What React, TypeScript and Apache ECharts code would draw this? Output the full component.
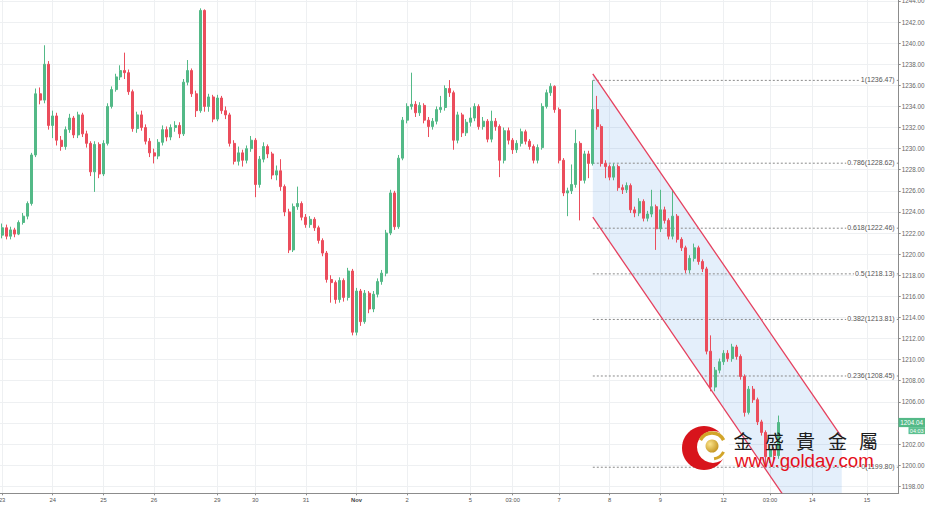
import React, { useEffect, useRef } from 'react';
import * as echarts from 'echarts';

// ---------- data ----------
const SLOT_COUNT = 213; // 2-hour slots on the time axis (incl. empty future slots)

const xTicks: [number, string][] = [
  [0, '23'], [12, '24'], [24, '25'], [36, '26'], [51, '29'], [60, '30'], [72, '31'],
  [84, 'Nov'], [96, '2'], [111, '5'], [121, '03:00'], [132, '7'], [144, '8'], [156, '9'],
  [171, '12'], [182, '03:00'], [192, '14'], [205, '15'],
];

const yTicks = [1198, 1200, 1202, 1204, 1206, 1208, 1210, 1212, 1214, 1216, 1218, 1220,
  1222, 1224, 1226, 1228, 1230, 1232, 1234, 1236, 1238, 1240, 1242, 1244];

// [open, close, low, high]
const candles: number[][] = [
  [1221.8, 1222.5, 1221.5, 1222.9], [1222.5, 1221.7, 1221.4, 1222.8], [1221.7, 1222.3, 1221.4, 1222.6],
  [1222.3, 1221.9, 1221.6, 1222.5], [1221.9, 1223.0, 1221.8, 1223.2], [1223.0, 1223.6, 1222.8, 1223.9],
  [1223.6, 1224.8, 1223.3, 1225.0], [1224.8, 1229.4, 1224.6, 1229.6], [1229.4, 1235.2, 1229.2, 1235.7],
  [1235.2, 1234.6, 1234.2, 1235.8], [1234.6, 1238.0, 1234.3, 1239.8], [1238.0, 1232.2, 1231.8, 1238.3],
  [1232.2, 1233.1, 1231.0, 1233.6], [1233.1, 1230.8, 1230.3, 1233.4], [1230.8, 1230.2, 1229.8, 1231.2],
  [1230.2, 1231.8, 1229.9, 1232.1], [1231.8, 1232.9, 1231.5, 1233.3], [1232.9, 1231.3, 1231.0, 1233.1],
  [1231.3, 1233.2, 1231.0, 1233.5], [1233.2, 1231.4, 1231.1, 1233.4], [1231.4, 1230.5, 1230.1, 1231.7],
  [1230.5, 1227.8, 1227.4, 1230.7], [1227.8, 1230.4, 1225.9, 1230.7], [1230.4, 1227.6, 1227.2, 1230.6],
  [1227.6, 1230.5, 1227.4, 1230.8], [1230.5, 1234.0, 1230.3, 1234.3], [1234.0, 1235.6, 1233.8, 1235.9],
  [1235.6, 1236.8, 1235.4, 1237.1], [1236.8, 1237.4, 1236.5, 1237.9], [1237.4, 1237.2, 1236.6, 1239.1],
  [1237.2, 1235.4, 1235.1, 1237.5], [1235.4, 1231.9, 1231.6, 1235.6], [1231.9, 1233.2, 1231.5, 1233.5],
  [1233.2, 1232.0, 1231.7, 1233.6], [1232.0, 1230.7, 1230.4, 1232.3], [1230.7, 1229.6, 1229.2, 1231.0],
  [1229.6, 1229.3, 1228.6, 1230.0], [1229.3, 1230.6, 1229.0, 1230.9], [1230.6, 1231.8, 1230.3, 1232.2],
  [1231.8, 1231.1, 1230.7, 1232.1], [1231.1, 1232.0, 1230.8, 1232.3], [1232.0, 1232.2, 1231.6, 1232.6],
  [1232.2, 1231.4, 1231.0, 1232.5], [1231.4, 1236.3, 1231.2, 1236.6], [1236.3, 1237.4, 1236.0, 1238.4],
  [1237.4, 1235.2, 1234.9, 1237.6], [1235.2, 1233.6, 1233.0, 1235.5], [1233.6, 1243.1, 1233.4, 1243.3],
  [1243.1, 1234.0, 1233.5, 1243.2], [1234.0, 1234.9, 1233.5, 1235.2], [1234.9, 1232.8, 1232.5, 1235.1],
  [1232.8, 1234.8, 1232.6, 1235.1], [1234.8, 1233.6, 1233.3, 1235.0], [1233.6, 1233.2, 1232.8, 1234.0],
  [1233.2, 1230.5, 1230.2, 1233.4], [1230.5, 1228.8, 1228.5, 1230.8], [1228.8, 1229.6, 1228.4, 1230.2],
  [1229.6, 1228.9, 1228.3, 1229.9], [1228.9, 1230.0, 1228.6, 1230.3], [1230.0, 1230.8, 1229.7, 1231.2],
  [1230.8, 1226.6, 1225.4, 1231.0], [1226.6, 1229.0, 1226.3, 1229.3], [1229.0, 1230.2, 1228.7, 1230.6],
  [1230.2, 1229.5, 1229.1, 1230.4], [1229.5, 1227.5, 1227.1, 1229.7], [1227.5, 1227.9, 1227.0, 1228.4],
  [1227.9, 1226.4, 1226.0, 1229.0], [1226.4, 1224.0, 1223.6, 1226.6], [1224.0, 1220.4, 1220.1, 1224.3],
  [1220.4, 1224.5, 1220.2, 1224.8], [1224.5, 1224.8, 1224.2, 1226.4], [1224.8, 1223.5, 1223.2, 1225.0],
  [1223.5, 1222.8, 1222.5, 1223.8], [1222.8, 1223.3, 1222.5, 1223.6], [1223.3, 1222.5, 1222.2, 1223.5],
  [1222.5, 1221.3, 1221.0, 1222.7], [1221.3, 1220.1, 1219.8, 1221.5], [1220.1, 1217.6, 1217.3, 1220.3],
  [1217.6, 1217.3, 1215.4, 1218.0], [1217.3, 1215.7, 1215.3, 1217.5], [1215.7, 1217.5, 1215.4, 1217.8],
  [1217.5, 1215.9, 1215.5, 1217.7], [1215.9, 1218.4, 1215.6, 1218.7], [1218.4, 1212.6, 1212.3, 1218.6],
  [1212.6, 1216.5, 1212.3, 1216.8], [1216.5, 1213.6, 1213.2, 1216.7], [1213.6, 1216.3, 1213.4, 1216.6],
  [1216.3, 1214.8, 1214.4, 1216.5], [1214.8, 1216.2, 1214.5, 1216.5], [1216.2, 1217.4, 1215.9, 1217.7],
  [1217.4, 1218.2, 1217.1, 1218.5], [1218.2, 1222.0, 1217.9, 1222.3], [1222.0, 1225.8, 1221.8, 1226.1],
  [1225.8, 1222.6, 1222.3, 1226.0], [1222.6, 1229.1, 1222.4, 1229.4], [1229.1, 1232.7, 1228.9, 1233.0],
  [1232.7, 1234.0, 1232.4, 1234.3], [1234.0, 1234.2, 1233.7, 1237.2], [1234.2, 1233.4, 1233.0, 1234.5],
  [1233.4, 1234.1, 1233.1, 1234.4], [1234.1, 1232.7, 1232.4, 1234.3], [1232.7, 1232.1, 1231.1, 1233.0],
  [1232.1, 1232.6, 1231.8, 1232.9], [1232.6, 1233.7, 1232.3, 1234.0], [1233.7, 1233.9, 1233.4, 1235.0],
  [1233.9, 1235.7, 1233.6, 1236.0], [1235.7, 1235.3, 1234.9, 1236.5], [1235.3, 1230.8, 1229.9, 1235.5],
  [1230.8, 1233.2, 1230.5, 1233.5], [1233.2, 1231.5, 1231.1, 1233.4], [1231.5, 1232.5, 1231.2, 1232.8],
  [1232.5, 1232.9, 1232.1, 1233.9], [1232.9, 1234.0, 1232.6, 1234.3], [1234.0, 1232.1, 1231.8, 1234.2],
  [1232.1, 1232.6, 1231.8, 1233.0], [1232.6, 1230.9, 1230.6, 1232.8], [1230.9, 1232.6, 1230.6, 1233.6],
  [1232.6, 1232.1, 1231.7, 1232.9], [1232.1, 1228.9, 1227.3, 1232.3], [1228.9, 1231.7, 1228.6, 1232.0],
  [1231.7, 1230.8, 1230.4, 1232.0], [1230.8, 1229.9, 1229.5, 1231.0], [1229.9, 1230.5, 1229.6, 1230.8],
  [1230.5, 1231.6, 1230.2, 1231.9], [1231.6, 1230.7, 1230.4, 1231.8], [1230.7, 1230.2, 1229.9, 1230.9],
  [1230.2, 1228.9, 1228.6, 1230.4], [1228.9, 1230.1, 1228.6, 1230.4], [1230.1, 1234.0, 1229.9, 1234.3],
  [1234.0, 1235.3, 1233.8, 1235.6], [1235.3, 1235.9, 1235.0, 1236.2], [1235.9, 1233.7, 1233.4, 1236.0],
  [1233.7, 1228.9, 1228.6, 1233.9], [1228.9, 1225.8, 1225.5, 1229.1], [1225.8, 1226.0, 1223.6, 1226.3],
  [1226.0, 1226.6, 1225.7, 1228.5], [1226.6, 1230.5, 1226.3, 1231.8], [1230.5, 1227.0, 1223.2, 1230.7],
  [1227.0, 1229.5, 1226.7, 1229.8], [1229.5, 1228.6, 1227.2, 1229.8], [1228.6, 1233.7, 1228.4, 1236.47],
  [1233.7, 1232.1, 1231.8, 1235.0], [1232.1, 1228.6, 1228.3, 1232.3], [1228.6, 1228.3, 1227.2, 1228.9],
  [1228.3, 1227.3, 1227.0, 1228.5], [1227.3, 1228.3, 1227.0, 1228.6], [1228.3, 1226.3, 1226.0, 1228.5],
  [1226.3, 1226.1, 1225.7, 1226.6], [1226.1, 1226.5, 1225.8, 1226.8], [1226.5, 1224.2, 1223.9, 1226.7],
  [1224.2, 1223.9, 1223.5, 1224.5], [1223.9, 1225.0, 1223.6, 1225.3], [1225.0, 1223.4, 1223.1, 1225.2],
  [1223.4, 1223.8, 1223.1, 1224.1], [1223.8, 1224.5, 1223.5, 1226.1], [1224.5, 1222.4, 1220.4, 1224.7],
  [1222.4, 1224.2, 1222.1, 1226.1], [1224.2, 1223.2, 1222.9, 1224.5], [1223.2, 1221.7, 1221.4, 1223.4],
  [1221.7, 1223.6, 1221.4, 1226.1], [1223.6, 1221.4, 1221.1, 1223.8], [1221.4, 1220.6, 1220.3, 1221.6],
  [1220.6, 1218.5, 1218.2, 1220.8], [1218.5, 1219.6, 1218.2, 1219.9], [1219.6, 1220.6, 1219.3, 1221.0],
  [1220.6, 1219.3, 1219.0, 1220.8], [1219.3, 1218.6, 1218.3, 1219.5], [1218.6, 1210.8, 1210.5, 1218.8],
  [1210.8, 1207.4, 1207.0, 1212.3], [1207.4, 1209.0, 1207.0, 1209.3], [1209.0, 1209.8, 1208.7, 1210.1],
  [1209.8, 1210.6, 1209.5, 1210.9], [1210.6, 1210.1, 1209.8, 1210.9], [1210.1, 1211.2, 1209.8, 1211.5],
  [1211.2, 1210.3, 1210.0, 1211.4], [1210.3, 1208.4, 1208.1, 1210.5], [1208.4, 1205.0, 1204.6, 1208.6],
  [1205.0, 1207.2, 1204.8, 1207.5], [1207.2, 1206.2, 1205.9, 1207.5], [1206.2, 1204.1, 1203.8, 1206.4],
  [1204.1, 1203.1, 1202.8, 1204.3], [1203.1, 1200.8, 1199.8, 1203.3], [1200.8, 1201.5, 1200.2, 1201.8],
  [1201.5, 1200.9, 1200.5, 1201.7], [1200.9, 1204.04, 1200.6, 1204.7],
];

const fibRatios = ['1', '0.786', '0.618', '0.5', '0.382', '0.236', '0'];
const fibPrices = [1236.47, 1228.62, 1222.46, 1218.13, 1213.81, 1208.45, 1199.8];
const fibStartSlot = 140;

const channelUpper = [[140, 1237.09], [199, 1202.65]];
const channelLower = [[140, 1223.5], [199, 1189.06]];

const lastPrice = 1204.04;
const countdown = '04:03';
const logoChars = ['金', '盛', '貴', '金', '屬'];
const logoUrl = 'www.golday.com';

// ---------- chart ----------
const UP = '#53b987';
const DOWN = '#eb4d5c';
const GRID_LINE = '#eef0f2';
const AXIS = '#8c8c8c';
const FONT = 'Liberation Sans, Arial, sans-serif';

const categories: string[] = Array.from({ length: SLOT_COUNT }, () => '');
xTicks.forEach(([i, t]) => { categories[i] = t; });
const isTick = (_i: number, v: string) => v !== '';

function buildOption(): any {
  return {
    animation: false,
    backgroundColor: '#ffffff',
    grid: { left: 0, top: 0, right: 27.3, bottom: 15.7, containLabel: false, outerBoundsMode: 'none' },
    xAxis: {
      type: 'category',
      data: categories,
      boundaryGap: true,
      axisLine: { show: true, lineStyle: { color: AXIS, width: 1 } },
      axisTick: { show: true, interval: isTick, alignWithLabel: true, length: 2, lineStyle: { color: AXIS } },
      axisLabel: {
        interval: isTick, color: '#555', fontSize: 5.8, fontFamily: FONT, margin: 4,
        formatter: (v: string) => (v === 'Nov' ? '{b|Nov}' : v),
        rich: { b: { fontWeight: 'bold', fontSize: 5.8, color: '#444', fontFamily: FONT } },
      },
      splitLine: { show: true, interval: isTick, alignWithLabel: true, lineStyle: { color: GRID_LINE, width: 1 } },
    },
    yAxis: {
      type: 'value',
      position: 'right',
      min: 1197.33,
      max: 1244.09,
      axisLine: { show: true, lineStyle: { color: AXIS, width: 1 } },
      axisTick: { show: true, length: 2, customValues: yTicks, lineStyle: { color: AXIS } },
      axisLabel: {
        customValues: yTicks, color: '#666', fontSize: 6.3, fontFamily: FONT, margin: 3,
        formatter: (v: number) => v.toFixed(2),
      },
      splitLine: { show: true, lineStyle: { color: GRID_LINE, width: 1 } },
    },
    series: [
      {
        type: 'custom',
        name: 'channelFill',
        z: 1,
        silent: true,
        data: [[channelUpper[0][0], channelUpper[0][1]]],
        renderItem: (params: any, api: any) => {
          const cs = params.coordSys;
          const pts = [channelUpper[0], channelUpper[1], channelLower[1], channelLower[0]].map((d) => api.coord(d));
          return {
            type: 'group',
            clipPath: { type: 'rect', shape: { x: cs.x, y: cs.y, width: cs.width, height: cs.height } },
            children: [{ type: 'polygon', shape: { points: pts }, style: { fill: 'rgba(33,120,220,0.12)' } }],
          };
        },
      },
      {
        type: 'custom',
        name: 'fib',
        z: 1.5,
        silent: true,
        data: fibPrices.map((p, k) => [fibStartSlot, p, k]),
        renderItem: (params: any, api: any) => {
          const cs = params.coordSys;
          const k = api.value(2);
          const p = api.coord([fibStartSlot, fibPrices[k]]);
          const right = cs.x + cs.width;
          return {
            type: 'group',
            children: [
              {
                type: 'line',
                shape: { x1: p[0], y1: p[1], x2: right, y2: p[1] },
                style: { stroke: '#8a8a8a', lineWidth: 1, lineDash: [2, 2] },
              },
              {
                type: 'text',
                x: right - 3,
                y: p[1] - 0.5,
                style: {
                  text: `${fibRatios[k]}(${fibPrices[k].toFixed(2)})`,
                  fill: '#555', fontSize: 7, fontFamily: FONT,
                  align: 'right', verticalAlign: 'middle',
                  backgroundColor: '#ffffff', padding: [0, 1],
                },
              },
            ],
          };
        },
      },
      {
        type: 'candlestick',
        name: 'XAUUSD',
        z: 2,
        barWidth: 2.5,
        data: candles,
        itemStyle: { color: UP, color0: DOWN, borderColor: UP, borderColor0: DOWN, borderWidth: 1 },
      },
      {
        type: 'custom',
        name: 'channelLines',
        z: 3,
        silent: true,
        data: [[channelUpper[0][0], channelUpper[0][1]]],
        renderItem: (params: any, api: any) => {
          const cs = params.coordSys;
          const u0 = api.coord(channelUpper[0]);
          const u1 = api.coord(channelUpper[1]);
          const l0 = api.coord(channelLower[0]);
          const l1 = api.coord(channelLower[1]);
          const st = { stroke: '#e5405e', lineWidth: 1.3 };
          return {
            type: 'group',
            clipPath: { type: 'rect', shape: { x: cs.x, y: cs.y, width: cs.width, height: cs.height } },
            children: [
              { type: 'line', shape: { x1: u0[0], y1: u0[1], x2: u1[0], y2: u1[1] }, style: st },
              { type: 'line', shape: { x1: l0[0], y1: l0[1], x2: l1[0], y2: l1[1] }, style: st },
            ],
          };
        },
      },
    ],
  };
}

function buildGraphic(py: number): any[] {
  const gold = new echarts.graphic.RadialGradient(0.35, 0.35, 0.75, [
    { offset: 0, color: '#fbe48c' },
    { offset: 1, color: '#c08f1a' },
  ]);
  const els: any[] = [
    { type: 'circle', z: 100, shape: { cx: 704, cy: 448, r: 22 }, style: { fill: '#d8141c' } },
    { type: 'circle', z: 101, shape: { cx: 713, cy: 447, r: 16 }, style: { fill: '#ffffff' } },
    {
      type: 'arc', z: 102,
      shape: { cx: 712, cy: 446, r: 13, startAngle: Math.PI * 1.15, endAngle: Math.PI * 1.85, clockwise: true },
      style: { stroke: '#d2a52a', lineWidth: 3.5, fill: 'none' },
    },
    {
      type: 'arc', z: 102,
      shape: { cx: 712, cy: 446, r: 13, startAngle: Math.PI * 0.15, endAngle: Math.PI * 0.45, clockwise: true },
      style: { stroke: '#d2a52a', lineWidth: 3, fill: 'none' },
    },
    { type: 'circle', z: 102, shape: { cx: 712, cy: 446, r: 6.5 }, style: { fill: gold } },
    {
      type: 'text', z: 103, x: 735, y: 460,
      style: {
        text: logoUrl, fill: '#e50f1b', fontSize: 18.7, fontFamily: FONT,
        align: 'left', verticalAlign: 'middle', lineHeight: 13,
      },
    },
    // price tag on the right axis
    { type: 'rect', z: 104, shape: { x: 898.5, y: py - 4.6, width: 26.5, height: 9.2 }, style: { fill: UP } },
    {
      type: 'text', z: 105, x: 911.7, y: py + 0.2,
      style: { text: lastPrice.toFixed(2), fill: '#ffffff', fontSize: 6.3, fontFamily: FONT, align: 'center', verticalAlign: 'middle' },
    },
    { type: 'rect', z: 104, shape: { x: 908.5, y: py + 4.6, width: 16.5, height: 7 }, style: { fill: '#5cc08f' } },
    {
      type: 'text', z: 105, x: 916.7, y: py + 8.2,
      style: { text: countdown, fill: '#ffffff', fontSize: 5.5, fontFamily: FONT, align: 'center', verticalAlign: 'middle' },
    },
  ];
  const charX = [743, 774.5, 805.5, 837.5, 868.5];
  logoChars.forEach((c, k) => {
    els.push({
      type: 'text', z: 103, x: charX[k], y: 440,
      style: {
        text: c, fill: '#1c1c1c', fontSize: 19, fontFamily: 'Noto Sans CJK TC',
        align: 'center', verticalAlign: 'middle', lineHeight: 16,
      },
    });
  });
  return els;
}

export default function App() {
  const ref = useRef<HTMLDivElement>(null);
  useEffect(() => {
    if (!ref.current) return;
    const chart = echarts.init(ref.current, null, { renderer: 'svg' });
    chart.setOption(buildOption());
    const py = chart.convertToPixel({ yAxisIndex: 0 }, lastPrice) as number;
    chart.setOption({ graphic: buildGraphic(py) });
    return () => chart.dispose();
  }, []);
  return (
    <div
      ref={ref}
      style={{ position: 'absolute', left: 0, top: 0, width: 926, height: 509, background: '#ffffff' }}
    />
  );
}
